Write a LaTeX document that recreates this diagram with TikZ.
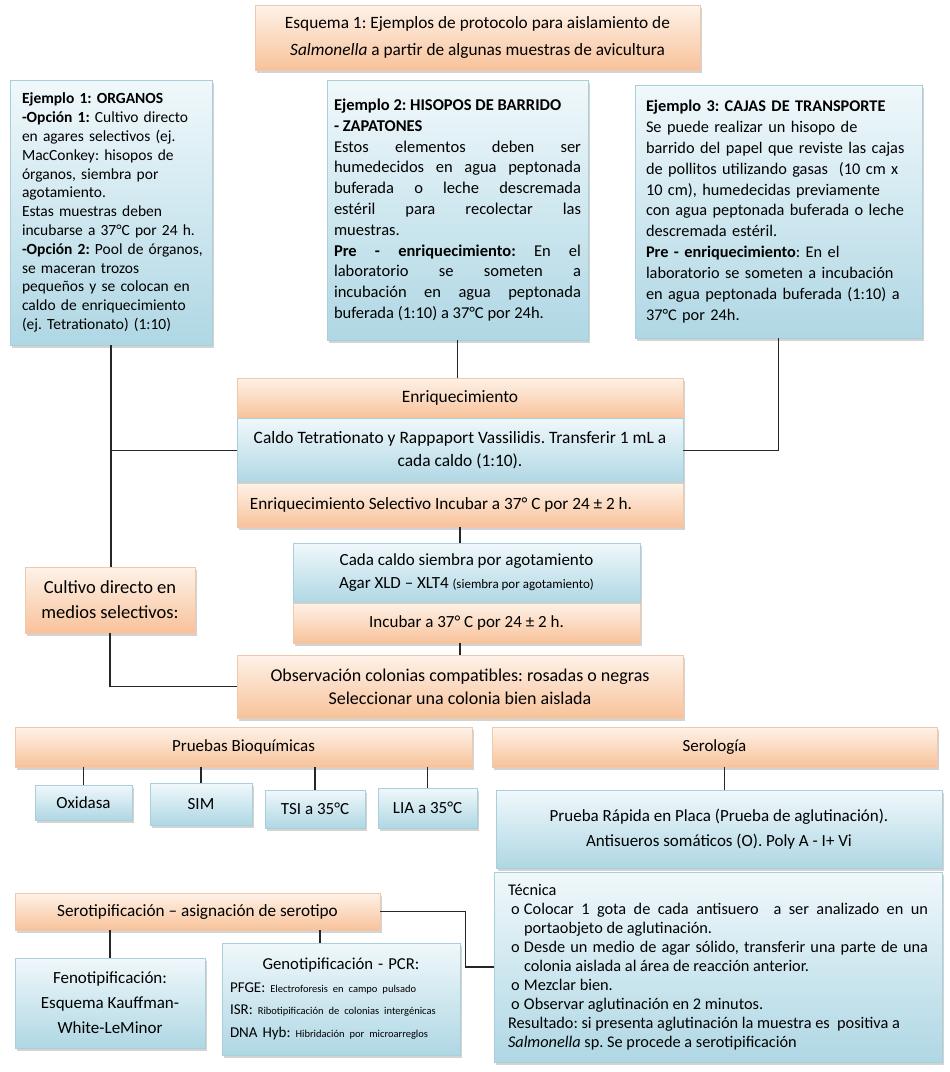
\documentclass[tikz,border=0pt]{standalone}
\usepackage{fontspec}
\setmainfont{Carlito}
\usetikzlibrary{shadows}

\definecolor{orTop}{HTML}{FEF2E8}
\definecolor{orBot}{HTML}{F8C29A}
\definecolor{orLine}{HTML}{EFC9AD}
\definecolor{blTop}{HTML}{F0F8FB}
\definecolor{blBot}{HTML}{AFD7E4}
\definecolor{blLine}{HTML}{A9CFDB}

\tikzset{
  orbox/.style={draw=orLine, top color=orTop, bottom color=orBot, align=center,
    inner sep=4pt, drop shadow={shadow xshift=2pt, shadow yshift=-2.5pt, opacity=0.35}},
  blbox/.style={draw=blLine, top color=blTop, bottom color=blBot, align=center,
    inner sep=4pt, drop shadow={shadow xshift=2pt, shadow yshift=-2.5pt, opacity=0.35}},
  link/.style={draw=black!85, line width=1.2pt}
}

\newcommand{\fs}[2]{\fontsize{#1}{#2}\selectfont}
\newcommand{\tecitem}[1]{\par\noindent\hangindent=16pt\hangafter=1\makebox[16pt][l]{\hspace{3pt}o}#1}

\begin{document}
\frenchspacing
\begin{tikzpicture}[x=1pt,y=-1pt]
  \useasboundingbox (0,0) rectangle (950,1072);

  % cabecera
  \node[orbox, minimum width=445, minimum height=65, font=\fs{17.3}{27}]
    (titulo) at (477.5,37.5)
    {Esquema 1: Ejemplos de protocolo para aislamiento de\\
     \textit{Salmonella} a partir de algunas muestras de avicultura};

  % ejemplos
  \node[blbox, minimum width=202, minimum height=265, text width=194, align=left,
    font=\fs{15.5}{18.8}] (ejuno) at (111,212.5)
    {\leftskip=8pt
     \textbf{Ejemplo 1: ORGANOS}\\
     \textbf{-Opción 1:} Cultivo directo\\
     en agares selectivos (ej.\\
     MacConkey: hisopos de\\
     órganos, siembra por\\
     agotamiento.\\
     Estas muestras deben\\
     incubarse a 37°C por 24 h.\\
     \mbox{\textbf{-Opción 2:} Pool de órganos,}\\
     se maceran trozos\\
     pequeños y se colocan en\\
     caldo de enriquecimiento\\
     (ej. Tetrationato) (1:10)\par};

  \node[blbox, minimum width=261, minimum height=260, text width=247, align=justify,
    font=\fs{16.5}{20.8}] (ejdos) at (457.5,210)
    {\textbf{Ejemplo 2: HISOPOS DE BARRIDO}\\
     \textbf{- ZAPATONES}\\
     Estos elementos deben ser\linebreak
     humedecidos en agua peptonada\linebreak
     buferada o leche descremada\linebreak
     estéril para recolectar las\linebreak
     muestras.\\
     \textbf{Pre - enriquecimiento:} En el\linebreak
     laboratorio se someten a\linebreak
     incubación en agua peptonada\linebreak
     buferada (1:10) a 37°C por 24h.};

  \node[blbox, minimum width=287, minimum height=253, text width=265, align=left,
    font=\fs{16.3}{20.9}] (ejtres) at (778.5,211.5)
    {\textbf{Ejemplo 3: CAJAS DE TRANSPORTE}\\
     Se puede realizar un hisopo de\\
     barrido del papel que reviste las cajas\\
     de pollitos utilizando gasas~ (10 cm x\\
     10 cm), humedecidas previamente\\
     con agua peptonada buferada o leche\\
     descremada estéril.\\
     \textbf{Pre - enriquecimiento}: En el\\
     laboratorio se someten a incubación\\
     en agua peptonada buferada (1:10) a\\
     37°C por 24h.};

  % enriquecimiento
  \node[orbox, minimum width=446, minimum height=40, font=\fs{17.4}{23}]
    (enriq) at (460,398) {Enriquecimiento};
  \node[blbox, minimum width=446, minimum height=65, font=\fs{17.4}{23}]
    (caldo) at (460,450.5)
    {Caldo Tetrationato y Rappaport Vassilidis. Transferir 1 mL a\\ cada caldo (1:10).};
  \node[orbox, minimum width=446, minimum height=44, font=\fs{17.2}{23}]
    (selectivo) at (460,505)
    {Enriquecimiento Selectivo Incubar a 37° C por 24 ± 2 h.\hspace{38pt}};

  \node[blbox, minimum width=347, minimum height=60, font=\fs{17}{23}]
    (siembra) at (466.5,573)
    {Cada caldo siembra por agotamiento\\
     Agar XLD – XLT4 {\fs{13}{23}(siembra por agotamiento)}};
  \node[orbox, minimum width=347, minimum height=40, font=\fs{17}{23}]
    (incubar) at (466.5,623) {Incubar a 37° C por 24 ± 2 h.};

  \node[orbox, minimum width=170, minimum height=66, font=\fs{18.5}{25}]
    (directo) at (110,600) {Cultivo directo en\\ medios selectivos:};

  \node[orbox, minimum width=446, minimum height=63, font=\fs{18}{23}]
    (observ) at (460,686.5)
    {Observación colonias compatibles: rosadas o negras\\
     Seleccionar una colonia bien aislada};

  % pruebas bioquimicas
  \node[orbox, minimum width=457, minimum height=40, font=\fs{17}{20}]
    (bioq) at (243.5,747) {Pruebas Bioquímicas};
  \node[blbox, minimum width=97, minimum height=35, font=\fs{17}{20}]
    (oxidasa) at (83.5,802.5) {Oxidasa};
  \node[blbox, minimum width=102, minimum height=42, font=\fs{17}{20}]
    (sim) at (201,804) {SIM};
  \node[blbox, minimum width=100, minimum height=38, font=\fs{17}{20}]
    (tsi) at (315,809) {TSI a 35°C};
  \node[blbox, minimum width=99, minimum height=40, font=\fs{17}{20}]
    (lia) at (427.5,808) {LIA a 35°C};

  % serologia
  \node[orbox, minimum width=445, minimum height=40, font=\fs{17}{20}]
    (serol) at (714.5,747) {Serología};
  \node[blbox, minimum width=446, minimum height=78, font=\fs{17}{25}]
    (placa) at (719,829)
    {Prueba Rápida en Placa (Prueba de aglutinación).\\
     Antisueros somáticos (O). Poly A - I+ Vi};
  \node[blbox, minimum width=448, minimum height=190, text width=420, align=justify,
    font=\fs{16.3}{19}] (tecnica) at (718,967)
    {\noindent Técnica
     \tecitem{Colocar 1 gota de cada antisuero~ a ser analizado en un\linebreak portaobjeto de aglutinación.}
     \tecitem{Desde un medio de agar sólido, transferir una parte de una\linebreak colonia aislada al área de reacción anterior.}
     \tecitem{Mezclar bien.}
     \tecitem{Observar aglutinación en 2 minutos.}
     \par\noindent Resultado: si presenta aglutinación la muestra es~ positiva a\\
     \textit{Salmonella} sp. Se procede a serotipificación\par};

  % serotipificacion
  \node[orbox, minimum width=365, minimum height=37, font=\fs{17.2}{20}]
    (serotipo) at (197.5,911.5) {Serotipificación – asignación de serotipo};
  \node[blbox, minimum width=190, minimum height=90, font=\fs{17}{25}]
    (feno) at (110,1003) {Fenotipificación:\\ Esquema Kauffman-\\ White-LeMinor};
  \node[blbox, minimum width=238, minimum height=112, text width=222, align=left,
    font=\fs{15}{22.7}] (geno) at (341,999)
    {\makebox[222pt]{\fs{16.7}{22.7}Genotipificación - PCR:}\\
     PFGE: {\fs{10.5}{12}Electroforesis en campo pulsado}\\
     ISR: {\fs{10.5}{12}Ribotipificación de colonias intergénicas}\\
     DNA Hyb: {\fs{10.5}{12}Hibridación por microarreglos}};

  % conectores
  \draw[link] (ejuno.south) -- (ejuno.south |- directo.north);
  \draw[link] (ejuno.south |- caldo.west) -- (caldo.west);
  \draw[link] (ejdos.south) -- (ejdos.south |- enriq.north);
  \draw[link] (ejtres.south) |- (caldo.east);
  \draw[link] (selectivo.south) -- (selectivo.south |- siembra.north);
  \draw[link] (incubar.south -| selectivo.south) -- (selectivo.south |- observ.north);
  \draw[link] (directo.south) |- (observ.west);
  \foreach \t in {oxidasa,sim,tsi,lia}
    \draw[link] (\t.north) -- (\t.north |- bioq.south);
  \draw[link] (serol.south) ++(10,0) coordinate (stop) -- (stop |- placa.north);
  \draw[link] (serotipo.east) -- ++(85,0) |- (tecnica.west);
  \draw[link] (feno.north) -- (feno.north |- serotipo.south);
  \draw[link] (geno.north) ++(-21,0) coordinate (gtop) -- (gtop |- serotipo.south);
\end{tikzpicture}
\end{document}
